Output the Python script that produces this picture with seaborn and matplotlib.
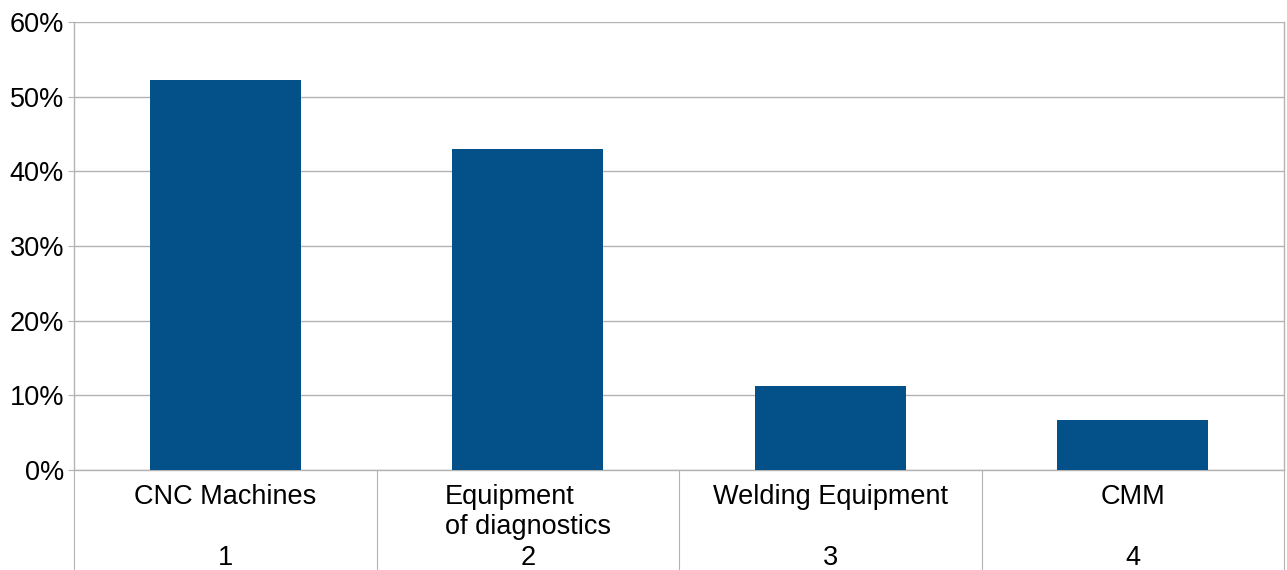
import matplotlib
matplotlib.use("Agg")
import matplotlib.pyplot as plt
import matplotlib.transforms as mtransforms
from matplotlib.ticker import PercentFormatter
import seaborn as sns
import pandas as pd

# ---- data ----
categories = ["CNC Machines", "Equipment\nof diagnostics", "Welding Equipment", "CMM"]
category_numbers = ["1", "2", "3", "4"]
shares = [0.522, 0.430, 0.113, 0.067]
y_ticks = [0.0, 0.1, 0.2, 0.3, 0.4, 0.5, 0.6]

BAR_COLOR = "#045089"
GRID = "#b3b3b3"
FS = 19.5

sns.set_theme(style="white")
plt.rcParams["font.family"] = ["Liberation Sans", "DejaVu Sans"]

W, H = 1287, 570
fig = plt.figure(figsize=(W / 100, H / 100), dpi=100)
ax = fig.add_axes([74 / W, 100 / H, (1284 - 74) / W, 448 / H])

df = pd.DataFrame({"category": categories, "share": shares})
sns.barplot(data=df, x="category", y="share", color=BAR_COLOR, saturation=1,
            width=0.5, ax=ax, zorder=3, linewidth=0)

ax.set_xlim(-0.5, len(categories) - 0.5)
ax.set_ylim(0, 0.6)
ax.set_yticks(y_ticks)
ax.yaxis.set_major_formatter(PercentFormatter(1.0, decimals=0))
ax.set_xlabel("")
ax.set_ylabel("")

ax.grid(axis="y", color=GRID, lw=1)
ax.grid(axis="x", visible=False)
ax.set_axisbelow(True)

for side in ["left", "right", "bottom"]:
    ax.spines[side].set_visible(True)
    ax.spines[side].set_color(GRID)
    ax.spines[side].set_linewidth(1)
ax.spines["top"].set_visible(False)

ax.tick_params(axis="y", left=True, length=4.2, width=0.8, color=GRID,
               labelsize=FS, pad=3.0, labelcolor="black")

# category separators as long minor ticks
ax.set_xticks([i - 0.5 for i in range(len(categories) + 1)], minor=True)
ax.tick_params(axis="x", which="minor", bottom=True, length=72, width=0.8,
               color=GRID, direction="out")
ax.tick_params(axis="x", which="major", bottom=False, length=0, labelsize=FS,
               pad=10, labelcolor="black")
for lbl in ax.get_xticklabels():
    lbl.set_multialignment("left")

trans = mtransforms.blended_transform_factory(ax.transData, fig.transFigure)
for i, num in enumerate(category_numbers):
    ax.text(i, 5 / H, num, transform=trans, ha="center", va="baseline",
            fontsize=FS, color="black")

fig.savefig("out.png", dpi=100, facecolor="white")
